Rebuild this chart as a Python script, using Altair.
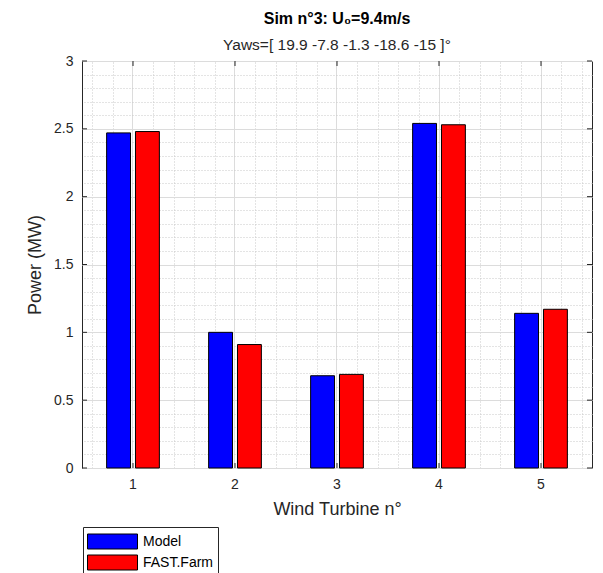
import altair as alt
import pandas as pd

turbines = [1, 2, 3, 4, 5]
model = [2.47, 1.00, 0.68, 2.54, 1.14]
fast_farm = [2.48, 0.91, 0.69, 2.53, 1.17]
series = ["Model", "FAST.Farm"]
colors = ["#0000ff", "#ff0000"]
y_major = [0, 0.5, 1, 1.5, 2, 2.5, 3]
y_minor = [0.1, 0.2, 0.3, 0.4, 0.6, 0.7, 0.8, 0.9, 1.1, 1.2, 1.3, 1.4,
           1.6, 1.7, 1.8, 1.9, 2.1, 2.2, 2.3, 2.4, 2.6, 2.7, 2.8, 2.9]
x_minor = [0.6, 0.8, 1.2, 1.4, 1.6, 1.8, 2.2, 2.4, 2.6, 2.8, 3.2, 3.4,
           3.6, 3.8, 4.2, 4.4, 4.6, 4.8, 5.2, 5.4]

rows = []
for t, m, f in zip(turbines, model, fast_farm):
    rows.append({"turbine": t, "series": "Model", "power": m})
    rows.append({"turbine": t, "series": "FAST.Farm", "power": f})
df = pd.DataFrame(rows)
ytick_df = pd.DataFrame({"power": y_major})
xtick_df = pd.DataFrame({"turbine": turbines})

FONT = "Liberation Sans"
TXT = "#262626"
W, H = 510, 407

grid_layer = alt.Chart(df).mark_point(opacity=0).encode(
    x=alt.X("turbine:Q", scale=alt.Scale(domain=[0.5, 5.5], nice=False, zero=False),
            axis=alt.Axis(values=x_minor, grid=True, gridDash=[1, 2], gridColor="#c8c8c8",
                          labels=False, ticks=False, domain=False, title=None, orient="top")),
    y=alt.Y("power:Q", scale=alt.Scale(domain=[0, 3], nice=False),
            axis=alt.Axis(values=y_minor, grid=True, gridDash=[1, 2], gridColor="#c8c8c8",
                          labels=False, ticks=False, domain=False, title=None, orient="right")),
)

x_enc = alt.X("turbine:N",
              scale=alt.Scale(paddingInner=0.483, paddingOuter=0.2415),
              axis=alt.Axis(title="Wind Turbine n°", labelAngle=0, grid=True, gridColor="#dcdcdc",
                            ticks=False, domain=False, labelPadding=9, titlePadding=9,
                            labelFontSize=14, titleFontSize=18))
y_enc = alt.Y("power:Q", scale=alt.Scale(domain=[0, 3], nice=False),
              axis=alt.Axis(title="Power (MW)", values=y_major, format="~g", grid=True,
                            gridColor="#dcdcdc", ticks=False, domain=False, labelPadding=9,
                            titlePadding=9, labelFontSize=14, titleFontSize=18))

bars = alt.Chart(df).mark_bar(stroke="black", strokeWidth=1).encode(
    x=x_enc,
    xOffset=alt.XOffset("series:N", sort=series,
                        scale=alt.Scale(paddingInner=0.172, paddingOuter=0)),
    y=y_enc,
    color=alt.Color("series:N", sort=series,
                    scale=alt.Scale(domain=series, range=colors),
                    legend=alt.Legend(title=None, orient="none", legendX=1, legendY=466,
                                      symbolType="M-2.5,-0.75H2.5V0.75H-2.5Z", symbolSize=400,
                                      symbolOffset=15,
                                      symbolStrokeColor="black", symbolStrokeWidth=1,
                                      symbolOpacity=1, labelFontSize=14, labelColor="black",
                                      strokeColor="#262626", fillColor="white", padding=4,
                                      rowPadding=1, labelOffset=20)),
)

tick_style = dict(color=TXT, strokeWidth=1)
yt_left = alt.Chart(ytick_df).mark_rule(**tick_style).encode(
    y=y_enc, x=alt.value(0), x2=alt.value(5))
yt_right = alt.Chart(ytick_df).mark_rule(**tick_style).encode(
    y=y_enc, x=alt.value(W - 5), x2=alt.value(W))
xt_top = alt.Chart(xtick_df).mark_rule(**tick_style).encode(
    x=x_enc, y=alt.value(0), y2=alt.value(5))
xt_bottom = alt.Chart(xtick_df).mark_rule(**tick_style).encode(
    x=x_enc, y=alt.value(H - 5), y2=alt.value(H))

inner = alt.layer(bars, yt_left, yt_right, xt_top, xt_bottom)

chart = alt.layer(grid_layer, inner).resolve_scale(
    x="independent", y="independent"
).resolve_axis(x="independent", y="independent").properties(
    width=W, height=H,
    title=alt.TitleParams(text="Sim n°3: U₀=9.4m/s", subtitle="Yaws=[ 19.9 -7.8 -1.3 -18.6 -15 ]°",
                          font=FONT, fontSize=16, fontWeight="bold", color="black",
                          subtitleFont=FONT, subtitleFontSize=15.5, subtitleColor=TXT,
                          subtitlePadding=11, offset=1, anchor="middle"),
    autosize=alt.AutoSizeParams(type="none"),
    padding={"left": 82, "top": 61, "right": 11, "bottom": 105},
).configure_view(stroke=TXT, strokeWidth=1).configure_axis(
    labelFont=FONT, titleFont=FONT, labelColor=TXT, titleColor=TXT, titleFontWeight="normal"
).configure_legend(labelFont=FONT)

chart.save("out.html", embed_options={"renderer": "svg", "actions": False})
